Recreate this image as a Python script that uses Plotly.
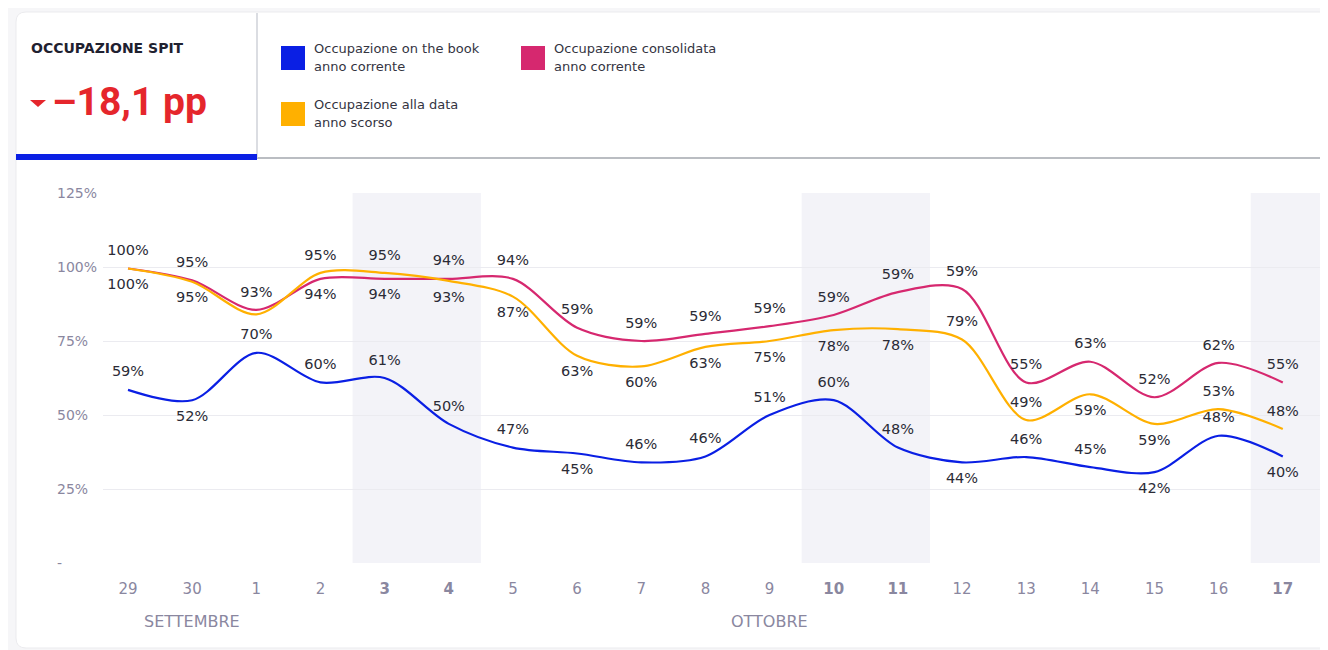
import plotly.graph_objects as go

# ---------------- data ----------------
days = ["29", "30", "1", "2", "3", "4", "5", "6", "7", "8", "9",
        "10", "11", "12", "13", "14", "15", "16", "17"]
weekend = [False, False, False, False, True, True, False, False, False, False, False,
           True, True, False, False, False, False, False, True]
months = ["SETTEMBRE", "OTTOBRE"]
month_anchor_day = ["30", "9"]

on_book = [58.5, 55, 71, 61, 62.5, 47, 39, 37, 34, 36, 50, 55, 39, 34, 35.8, 32.4, 30.7, 43, 36]
consolidata = [99.5, 95.5, 85.5, 96, 96, 96, 96, 79.5, 75, 77.4, 80, 83.8, 91.5, 92.6, 61, 68, 56, 67.6, 61]
anno_scorso = [99.5, 95, 84, 98, 98, 95.3, 90, 70, 66.4, 73, 75, 78.7, 79, 75.5, 48.3, 57, 47, 52, 45.3]

on_book_lbl = ["59%", "52%", "70%", "60%", "61%", "50%", "47%", "45%", "46%", "46%",
               "51%", "60%", "48%", "44%", "46%", "45%", "42%", "48%", "40%"]
consolidata_lbl = ["100%", "95%", "93%", "94%", "94%", "94%", "94%", "59%", "59%", "59%",
                   "59%", "59%", "59%", "59%", "55%", "63%", "52%", "62%", "55%"]
anno_scorso_lbl = ["100%", "95%", "", "95%", "95%", "93%", "87%", "63%", "60%", "63%",
                   "75%", "78%", "78%", "79%", "49%", "59%", "59%", "53%", "48%"]

T, B = "top center", "bottom center"
on_book_pos = [T, B, T, T, T, T, T, B, T, T, T, T, T, B, T, T, B, T, B]
consolidata_pos = [T, T, T, B, B, T, T, T, T, T, T, T, T, T, T, T, T, T, T]
anno_scorso_pos = [B, B, B, T, T, B, B, B, B, B, B, B, B, T, T, B, B, T, T]

y_ticks = [0, 25, 50, 75, 100, 125]
y_ticktext = ["-", "25%", "50%", "75%", "100%", "125%"]

kpi_title = "OCCUPAZIONE SPIT"
kpi_value = "–18,1 pp"
legend_items = [
    ("Occupazione on the book", "anno corrente"),
    ("Occupazione consolidata", "anno corrente"),
    ("Occupazione alla data", "anno scorso"),
]

# ---------------- style ----------------
BLUE = "#0a1fe4"
MAGENTA = "#d6286f"
YELLOW = "#ffb000"
RED = "#e5262c"
AXIS_TXT = "#8a879f"
LBL_TXT = "#2b2b36"
FONT = "DejaVu Sans"

OX, OY = 8, 8                     # page offset of the figure (body margin)
W, H = 1320, 642
ML, MR, MT, MB = 95, 8, 185, 87
PW, PH = W - ML - MR, H - MT - MB


def px(x):
    """page-pixel x -> paper coordinate"""
    return (x - OX - ML) / PW


def py(y):
    """page-pixel y -> paper coordinate"""
    return (H - MB - (y - OY)) / PH


x_idx = list(range(len(days)))

fig = go.Figure()

series = [
    (consolidata, consolidata_lbl, consolidata_pos, MAGENTA, "Occupazione consolidata anno corrente"),
    (anno_scorso, anno_scorso_lbl, anno_scorso_pos, YELLOW, "Occupazione alla data anno scorso"),
    (on_book, on_book_lbl, on_book_pos, BLUE, "Occupazione on the book anno corrente"),
]
for vals, lbls, pos, col, name in series:
    fig.add_trace(go.Scatter(
        x=x_idx, y=vals, mode="lines+markers+text", name=name,
        line=dict(color=col, width=2.2, shape="spline", smoothing=0.9),
        marker=dict(size=14, color="rgba(0,0,0,0)", line=dict(width=0)),
        text=lbls, textposition=pos,
        textfont=dict(family=FONT, size=14.5, color=LBL_TXT),
        cliponaxis=False, hoverinfo="skip", showlegend=False,
    ))

shapes = []
# card background
cx0, cy0, cx1, cy1, r = 16, 12, 1345, 648, 10
rx, ry = r / PW, r / PH
card_path = (
    f"M {px(cx0)+rx},{py(cy0)} L {px(cx1)},{py(cy0)} L {px(cx1)},{py(cy1)} "
    f"L {px(cx0)+rx},{py(cy1)} Q {px(cx0)},{py(cy1)} {px(cx0)},{py(cy1)+ry} "
    f"L {px(cx0)},{py(cy0)-ry} Q {px(cx0)},{py(cy0)} {px(cx0)+rx},{py(cy0)} Z"
)
shapes.append(dict(type="path", xref="paper", yref="paper", path=card_path,
                   fillcolor="white", line=dict(color="#ebebee", width=1), layer="below"))

# weekend bands
i = 0
while i < len(days):
    if weekend[i]:
        j = i
        while j + 1 < len(days) and weekend[j + 1]:
            j += 1
        x1 = j + 0.5 if j < len(days) - 1 else j + 0.58
        shapes.append(dict(type="rect", xref="x", yref="paper", x0=i - 0.5, x1=x1,
                           y0=0, y1=1, fillcolor="#f3f3f8", line=dict(width=0), layer="below"))
        i = j + 1
    else:
        i += 1

# header lines
shapes.append(dict(type="line", xref="paper", yref="paper", x0=px(257), x1=px(1345),
                   y0=py(158), y1=py(158), line=dict(color="#a3a7ae", width=1.5)))
shapes.append(dict(type="line", xref="paper", yref="paper", x0=px(257), x1=px(257),
                   y0=py(13), y1=py(158), line=dict(color="#cfd2d8", width=1.5)))
shapes.append(dict(type="rect", xref="paper", yref="paper", x0=px(16), x1=px(257),
                   y0=py(160), y1=py(154), fillcolor=BLUE, line=dict(width=0)))
# KPI triangle
tri = f"M {px(30)},{py(100)} L {px(46)},{py(100)} L {px(38)},{py(107)} Z"
shapes.append(dict(type="path", xref="paper", yref="paper", path=tri,
                   fillcolor=RED, line=dict(width=0)))

# legend squares
legend_cols = [BLUE, MAGENTA, YELLOW]
legend_xy = [(281, 46), (521, 46), (281, 102)]
for col, (lx, ly) in zip(legend_cols, legend_xy):
    shapes.append(dict(type="rect", xref="paper", yref="paper", x0=px(lx), x1=px(lx + 24),
                       y0=py(ly + 24), y1=py(ly), fillcolor=col, line=dict(width=0)))

annotations = []
# y tick labels (left aligned)
for v, t in zip(y_ticks, y_ticktext):
    annotations.append(dict(xref="paper", yref="y", x=px(55), y=v, text=t, showarrow=False,
                            xanchor="left", yanchor="middle",
                            font=dict(family=FONT, size=14, color=AXIS_TXT)))
# month labels
for m, d in zip(months, month_anchor_day):
    annotations.append(dict(xref="x", yref="paper", x=days.index(d), y=py(621), text=m,
                            showarrow=False, xanchor="center", yanchor="middle",
                            font=dict(family=FONT, size=16, color=AXIS_TXT)))
# KPI
annotations.append(dict(xref="paper", yref="paper", x=px(29), y=py(48), text=f"<b>{kpi_title}</b>",
                        showarrow=False, xanchor="left", yanchor="middle",
                        font=dict(family=FONT, size=14, color="#1f2130")))
annotations.append(dict(xref="paper", yref="paper", x=px(50), y=py(102), text=f"<b>{kpi_value}</b>",
                        showarrow=False, xanchor="left", yanchor="middle",
                        font=dict(family="Roboto", size=39, color=RED)))
# legend texts
for (l1, l2), (lx, ly) in zip(legend_items, legend_xy):
    annotations.append(dict(xref="paper", yref="paper", x=px(lx + 31), y=py(ly + 2), text=l1,
                            showarrow=False, xanchor="left", yanchor="middle",
                            font=dict(family=FONT, size=13, color="#34343f")))
    annotations.append(dict(xref="paper", yref="paper", x=px(lx + 31), y=py(ly + 21), text=l2,
                            showarrow=False, xanchor="left", yanchor="middle",
                            font=dict(family=FONT, size=13, color="#34343f")))

xtick_text = [f"<b>{d}</b>" if w else d for d, w in zip(days, weekend)]

fig.update_layout(
    width=W, height=H,
    margin=dict(l=ML, r=MR, t=MT, b=MB, pad=0),
    paper_bgcolor="#f6f6f8",
    plot_bgcolor="rgba(0,0,0,0)",
    showlegend=False,
    shapes=shapes,
    annotations=annotations,
    xaxis=dict(range=[-0.39, 18.58], tickvals=x_idx, ticktext=xtick_text,
               showgrid=False, zeroline=False, showline=False,
               ticks="outside", ticklen=12, tickcolor="rgba(0,0,0,0)",
               tickfont=dict(family=FONT, size=15, color=AXIS_TXT), fixedrange=True),
    yaxis=dict(range=[0, 125], tickvals=y_ticks, showticklabels=False,
               showgrid=True, gridcolor="#ebebf0", gridwidth=1.2,
               zeroline=False, showline=False, fixedrange=True),
)

fig.write_html("out.html")
